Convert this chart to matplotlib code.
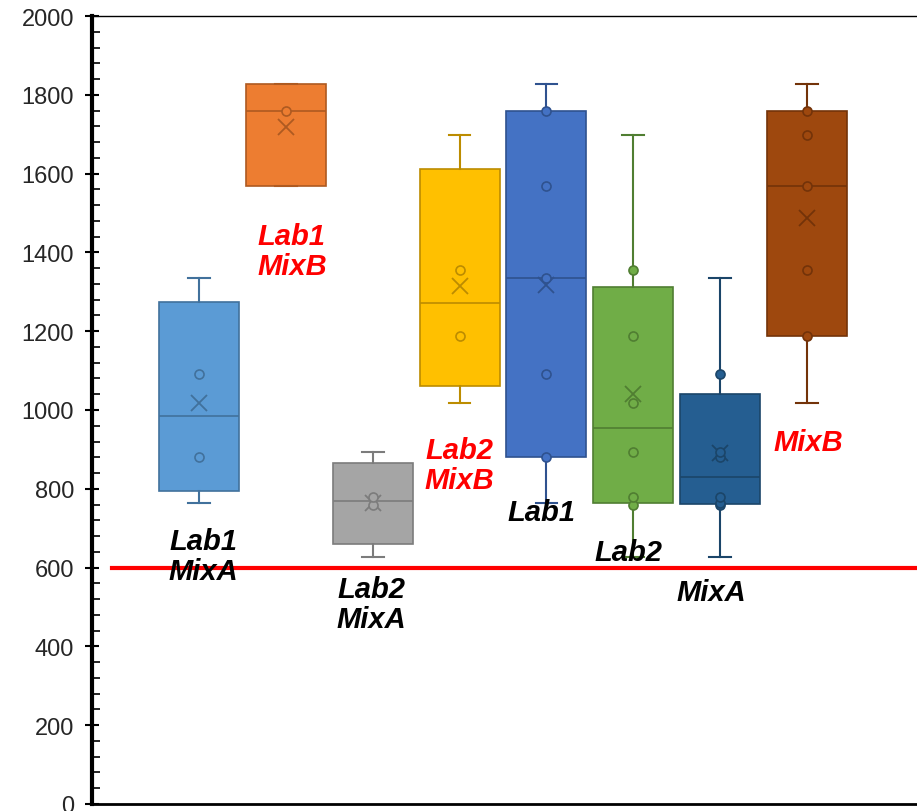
import numpy as np
import matplotlib
matplotlib.use("Agg")
import matplotlib.pyplot as plt
import matplotlib.ticker as ticker

# raw measurements per lab / mix
lab1_mixA = [764, 881, 1091, 1335]
lab1_mixB = [1568, 1759, 1827]
lab2_mixA = [627, 760, 778, 893]
lab2_mixB = [1018, 1188, 1355, 1698]

series = [
    ("Lab1\nMixA", lab1_mixA),
    ("Lab1\nMixB", lab1_mixB),
    ("Lab2\nMixA", lab2_mixA),
    ("Lab2\nMixB", lab2_mixB),
    ("Lab1", lab1_mixA + lab1_mixB),
    ("Lab2", lab2_mixA + lab2_mixB),
    ("MixA", lab1_mixA + lab2_mixA),
    ("MixB", lab1_mixB + lab2_mixB),
]
fills = ['#5B9BD5', '#ED7D31', '#A5A5A5', '#FFC000', '#4472C4', '#70AD47', '#255E91', '#9E480E']
edges = ['#41719C', '#AE5A21', '#7C7C7C', '#BC8C00', '#2F528F', '#507E32', '#1B4569', '#733309']

# label placement (x position, y value, colour)
label_pos = [(1.05, 629, 'black'), (2.07, 1403, 'red'), (2.98, 508, 'black'), (4.0, 860, 'red'),
             (4.94, 741, 'black'), (5.94, 640, 'black'), (6.9, 538, 'black'), (8.02, 919, 'red')]

limit = 600

fig = plt.figure(figsize=(9.17, 8.12), dpi=100)
ax = fig.add_axes([92/917, 7/812, 0.91, 788/812])

for i, (name, vals) in enumerate(series):
    v = np.sort(np.array(vals, dtype=float))
    # Excel-style (exclusive) quartiles
    q1, med, q3 = np.percentile(v, [25, 50, 75], method='weibull')
    st = dict(med=med, q1=q1, q3=q3, whislo=v.min(), whishi=v.max(), mean=v.mean(), fliers=[])
    pos = i + 1
    ax.bxp([st], positions=[pos], widths=0.92, patch_artist=True, showmeans=True,
           boxprops=dict(facecolor=fills[i], edgecolor=edges[i], linewidth=1.2),
           medianprops=dict(color=edges[i], linewidth=1.2),
           whiskerprops=dict(color=edges[i], linewidth=1.5),
           capprops=dict(color=edges[i], linewidth=1.5),
           capwidths=0.25,
           meanprops=dict(marker='x', markeredgecolor=edges[i], markersize=12, markeredgewidth=1.3))
    inner = v[1:-1]
    ax.plot([pos] * len(inner), inner, 'o', markersize=6.5, markerfacecolor=fills[i],
            markeredgecolor=edges[i], markeredgewidth=1.2, zorder=4)

# limit line
ax.plot([0, 9.5], [limit, limit], color='red', linewidth=3, zorder=5)

for (name, _), (x, y, c) in zip(series, label_pos):
    ax.text(x, y, name, color=c, fontsize=21, fontweight='bold', fontstyle='italic',
            family='Liberation Sans', ha='center', va='center', linespacing=1.1, zorder=6)

ax.set_xlim(-0.232, 9.375)
ax.set_ylim(0, 2000)
ax.set_xticks([])
ax.yaxis.set_major_locator(ticker.MultipleLocator(200))
ax.yaxis.set_minor_locator(ticker.MultipleLocator(40))
ax.tick_params(axis='y', which='major', direction='inout', length=10, width=1.5,
               labelsize=17, labelcolor='#262626', pad=8)
ax.tick_params(axis='y', which='minor', direction='in', length=6, width=1.2)
for lab in ax.get_yticklabels():
    lab.set_family('Liberation Sans')

ax.spines['left'].set_linewidth(3)
ax.spines['bottom'].set_linewidth(2)
ax.spines['top'].set_linewidth(1)
ax.spines['right'].set_visible(False)

fig.savefig("out.png", dpi=100)
